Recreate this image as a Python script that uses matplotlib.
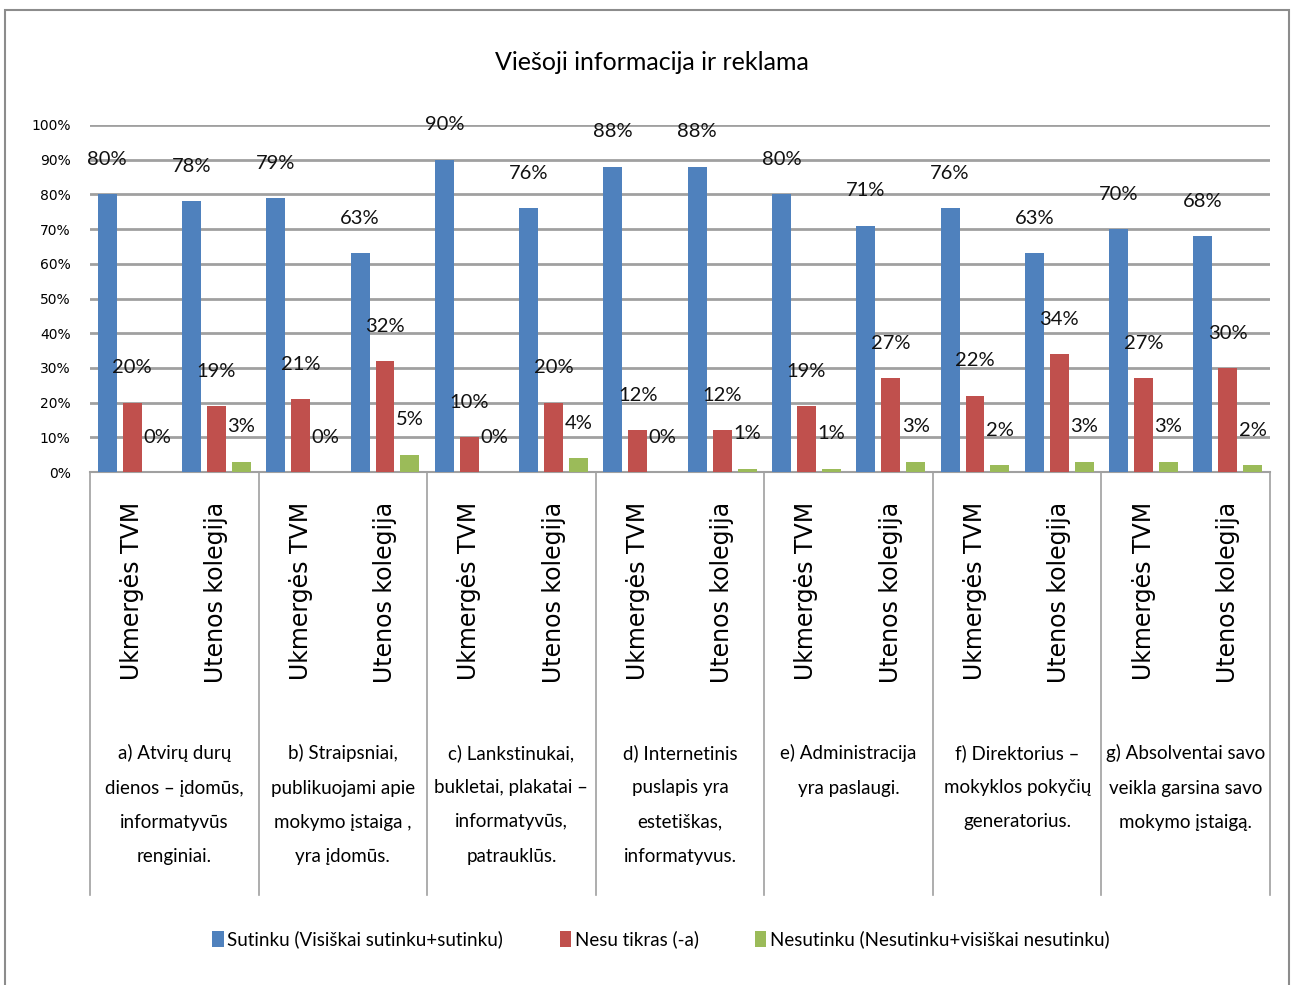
import matplotlib
matplotlib.use('Agg')
import matplotlib.pyplot as plt
import matplotlib.patches as mpatches
import matplotlib.transforms as mtransforms
import numpy as np

NARROW = 'Lato'   # closest thing to the narrow Calibri look of the original

# ---- data ----
groups = ['a) Atvirų durų\ndienos – įdomūs,\ninformatyvūs\nrenginiai.',
          'b) Straipsniai,\npublikuojami apie\nmokymo įstaiga ,\nyra įdomūs.',
          'c) Lankstinukai,\nbukletai, plakatai –\ninformatyvūs,\npatrauklūs.',
          'd) Internetinis\npuslapis yra\nestetiškas,\ninformatyvus.',
          'e) Administracija\nyra paslaugi.',
          'f) Direktorius –\nmokyklos pokyčių\ngeneratorius.',
          'g) Absolventai savo\nveikla garsina savo\nmokymo įstaigą.']
schools = ['Ukmergės TVM', 'Utenos kolegija']

sutinku = [80, 78, 79, 63, 90, 76, 88, 88, 80, 71, 76, 63, 70, 68]
nesu_tikras = [20, 19, 21, 32, 10, 20, 12, 12, 19, 27, 22, 34, 27, 30]
nesutinku = [0, 3, 0, 5, 0, 4, 0, 1, 1, 3, 2, 3, 3, 2]

series_names = ['Sutinku (Visiškai sutinku+sutinku)', 'Nesu tikras (-a)',
                'Nesutinku (Nesutinku+visiškai nesutinku)']
colors = ['#4F81BD', '#C0504D', '#9BBB59']

fig = plt.figure(figsize=(12.91, 9.85), dpi=100)
ax = fig.add_axes([90/1291, 1-472/985, (1270-90)/1291, (472-125)/985])

n = len(sutinku)
x = np.arange(n) + 0.5
w = 0.225
step = 0.296

for k, vals in enumerate([sutinku, nesu_tikras, nesutinku]):
    xs = x + (k-1)*step
    ax.bar(xs, vals, width=w, color=colors[k], label=series_names[k], zorder=3)
    for xi, v in zip(xs, vals):
        ax.annotate(f'{v}%', (xi, v), xytext=(0, 25), textcoords='offset points',
                    ha='center', va='center', fontsize=14.5, family=NARROW, color='#111')

ax.set_xlim(0, n)
ax.set_ylim(0, 100)
ax.set_yticks(np.arange(0, 101, 10))
ax.set_yticklabels([f'{t}%' for t in range(0, 101, 10)], fontsize=10)
ax.tick_params(axis='y', length=0, pad=14)
ax.set_xticks([])
ax.grid(axis='y', color='#a0a0a0', linewidth=2, zorder=0)
for s in ['top', 'right', 'left']:
    ax.spines[s].set_visible(False)
ax.spines['bottom'].set_color('#a0a0a0')
ax.spines['bottom'].set_linewidth(1.5)

# multi-level category axis
trans = mtransforms.blended_transform_factory(ax.transData, ax.transAxes)
for g in range(len(groups) + 1):
    ax.plot([2*g, 2*g], [0, -1.219], transform=trans, color='#a0a0a0', lw=1.2,
            clip_on=False)
for i in range(n):
    ax.text(x[i], -0.085, schools[i % 2], transform=trans, rotation=90,
            ha='center', va='top', fontsize=17)
for g, lab in enumerate(groups):
    ax.text(2*g + 1, -0.785, lab, transform=trans, ha='center', va='top',
            fontsize=13.5, family=NARROW, linespacing=2.22)

fig.text(0.505, 0.937, 'Viešoji informacija ir reklama', ha='center', va='center',
         fontsize=18, family=NARROW)

fig.legend(loc='center', bbox_to_anchor=(0.512, 0.046), ncol=3, frameon=False,
           prop={'family': NARROW, 'size': 13.5}, handlelength=0.6, handleheight=0.9,
           handletextpad=0.2, columnspacing=3.0)

# outer chart frame
fig.patches.append(mpatches.Rectangle((5/1291, -0.02), 1284/1291, 1-10/985+0.02,
                                      transform=fig.transFigure, fill=False,
                                      edgecolor='#8c8c8c', lw=1.5))

fig.savefig('out.png', dpi=100)
